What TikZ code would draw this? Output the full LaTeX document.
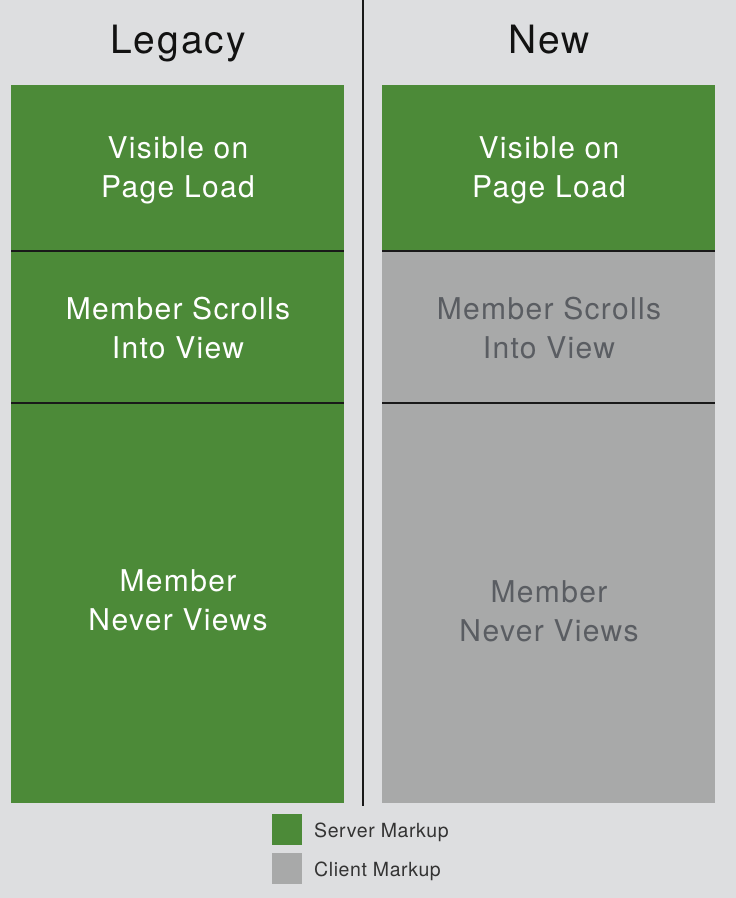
\documentclass[tikz,border=0pt]{standalone}
\usepackage{fontspec}
\setmainfont{TeX Gyre Heros}
\definecolor{bgc}{HTML}{DDDEE0}
\definecolor{srv}{HTML}{4C8A38}
\definecolor{cli}{HTML}{A8A9A9}
\definecolor{clitext}{HTML}{5A5D62}
\definecolor{legtext}{HTML}{333333}
\begin{document}
\begin{tikzpicture}[x=1pt,y=-1pt,
  server/.style={fill=srv,draw=none},
  client/.style={fill=cli,draw=none},
  boxtext/.style={align=center,font=\fontsize{30}{39}\selectfont\addfontfeature{LetterSpace=4.5},inner sep=0pt},
  wtext/.style={boxtext,text=white},
  gtext/.style={boxtext,text=clitext},
  heading/.style={font=\fontsize{39}{44}\selectfont\addfontfeature{LetterSpace=5},text=black!93,inner sep=0pt,anchor=base},
  divider/.style={line width=1.3pt,black!90},
  legtxt/.style={font=\fontsize{19.5}{22}\selectfont\addfontfeature{LetterSpace=3},text=legtext,anchor=base west,inner sep=0pt}]
\useasboundingbox (0,0) rectangle (736,898);
\fill[bgc] (0,0) rectangle (736,898);
% headings
\node[heading] (hleg) at (178,53) {Legacy};
\node[heading] (hnew) at (549,53) {New};
% separator
\coordinate (septop) at (363,0);
\coordinate (sepbot) at (363,806);
\draw[line width=1.6pt,black!90] (septop) -- (sepbot);
% legacy column
\fill[server] (11,85) rectangle (344,803);
% new column
\fill[server] (382,85) rectangle (715,251);
\fill[client] (382,251) rectangle (715,803);
% dividers
\coordinate (l1a) at (11,251); \coordinate (l1b) at (344,251);
\coordinate (l2a) at (11,403); \coordinate (l2b) at (344,403);
\coordinate (r1a) at (382,251); \coordinate (r1b) at (715,251);
\coordinate (r2a) at (382,403); \coordinate (r2b) at (715,403);
\draw[divider] (l1a) -- (l1b);
\draw[divider] (l2a) -- (l2b);
\draw[divider] (r1a) -- (r1b);
\draw[divider] (r2a) -- (r2b);
% texts
\node[wtext] (lvis) at (178,170) {Visible on\\Page Load};
\node[wtext] (lscr) at (178,328) {Member Scrolls\\Into View};
\node[wtext] (lnev) at (178,600) {Member\\Never Views};
\node[wtext] (rvis) at (549,170) {Visible on\\Page Load};
\node[gtext] (rscr) at (549,328) {Member Scrolls\\Into View};
\node[gtext] (rnev) at (549,611) {Member\\Never Views};
% legend
\node[server,minimum width=30pt,minimum height=31pt,inner sep=0pt,anchor=north west] (lgs) at (272,814) {};
\node[client,minimum width=30pt,minimum height=31pt,inner sep=0pt,anchor=north west] (lgc) at (272,853) {};
\node[legtxt] (lgst) at (314,837) {Server Markup};
\node[legtxt] (lgct) at (314,876) {Client Markup};
\end{tikzpicture}
\end{document}
